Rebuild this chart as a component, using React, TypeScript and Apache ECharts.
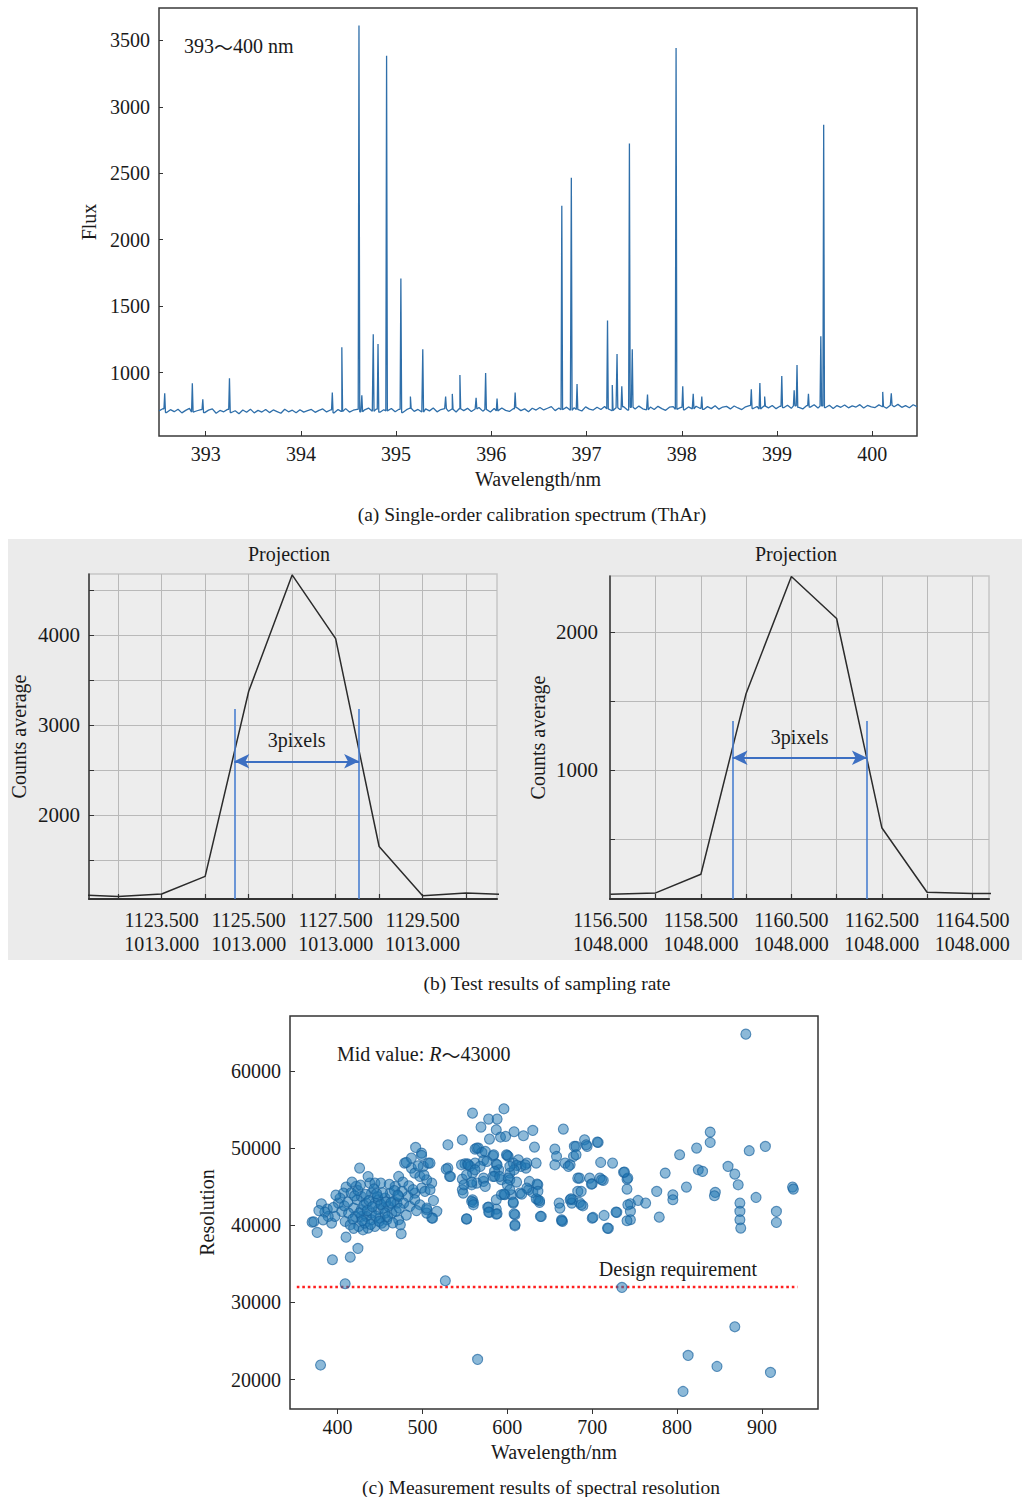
import React, { useEffect, useRef } from "react";
import * as echarts from "echarts";

// ---------- (a) spectrum ----------
const SPEC_START = 392.51;
const SPEC_STEP = 0.04;
const specBaseline = [
  712, 728, 700, 721, 706, 724, 697, 716, 731, 703, 713, 722, 699, 718, 727, 694, 715, 705, 723, 700,
  713, 691, 719, 702, 725, 697, 716, 703, 722, 699, 719, 707, 694, 724, 705, 717, 698, 721, 703, 714,
  723, 701, 716, 727, 704, 719, 698, 722, 708, 729, 703, 717, 724, 705, 720, 733, 709, 725, 702, 721,
  712, 730, 706, 724, 700, 721, 732, 708, 723, 703, 727, 712, 734, 705, 722, 729, 709, 725, 704, 728,
  714, 731, 707, 726, 737, 710, 723, 704, 730, 712, 734, 716, 708, 728, 736, 714, 727, 706, 732, 718,
  738, 719, 732, 744, 714, 734, 721, 740, 716, 736, 723, 711, 742, 725, 718, 739, 722, 745, 727, 715,
  736, 723, 743, 718, 739, 726, 748, 728, 720, 741, 722, 746, 729, 716, 740, 744, 724, 738, 720, 742,
  727, 747, 732, 723, 744, 729, 751, 725, 741, 746, 727, 749, 734, 722, 743, 752, 730, 745, 726, 748,
  735, 753, 729, 747, 736, 755, 731, 750, 738, 727, 751, 740, 758, 733, 749, 737, 754, 730, 752, 739,
  756, 735, 750, 741, 759, 734, 753, 742, 737, 757, 745, 732, 755, 743, 761, 739, 752, 736, 758, 744,
];
const specPeaks: [number, number][] = [
  [392.57, 845], [392.86, 920], [392.97, 800], [393.25, 957], [394.33, 850], [394.43, 1190],
  [394.61, 3613], [394.64, 830], [394.76, 1288], [394.81, 1215], [394.90, 3385], [395.05, 1708],
  [395.15, 820], [395.28, 1175], [395.52, 820], [395.59, 840], [395.67, 982], [395.84, 810],
  [395.94, 997], [396.06, 805], [396.25, 850], [396.74, 2256], [396.84, 2467], [396.90, 915],
  [397.22, 1393], [397.27, 907], [397.32, 1140], [397.37, 897], [397.45, 2724], [397.48, 1175],
  [397.64, 835], [397.94, 3443], [398.01, 897], [398.12, 840], [398.21, 820], [398.73, 875],
  [398.82, 922], [398.87, 820], [399.05, 975], [399.18, 867], [399.21, 1057], [399.33, 840],
  [399.46, 1273], [399.49, 2865], [400.11, 855], [400.20, 845],
];
const specXTicks = [393, 394, 395, 396, 397, 398, 399, 400];
const specYTicks = [1000, 1500, 2000, 2500, 3000, 3500];

// ---------- (b) projections ----------
const projLX = [1121.5, 1122.5, 1123.5, 1124.5, 1125.5, 1126.5, 1127.5, 1128.5, 1129.5, 1130.5, 1131.5];
const projLY = [1118, 1098, 1125, 1321, 3375, 4670, 3963, 1653, 1106, 1136, 1120];
const projLGridX = [1122.5, 1123.5, 1124.5, 1125.5, 1126.5, 1127.5, 1128.5, 1129.5, 1130.5];
const projLLabelX = [1123.5, 1125.5, 1127.5, 1129.5];
const projLGridY = [1500, 2000, 2500, 3000, 3500, 4000, 4500];
const projLLabelY = [2000, 3000, 4000];
const projLRow = "1013.000";
const projLMarkers = [1125.17, 1128.04];
const projLMarkerTop = 3180;
const projLArrowY = 2600;

const projRX = [1156.5, 1157.5, 1158.5, 1159.5, 1160.5, 1161.5, 1162.5, 1163.5, 1164.5, 1165.5];
const projRY = [105, 115, 250, 1556, 2400, 2097, 586, 120, 110, 110];
const projRGridX = [1157.5, 1158.5, 1159.5, 1160.5, 1161.5, 1162.5, 1163.5, 1164.5];
const projRLabelX = [1156.5, 1158.5, 1160.5, 1162.5, 1164.5];
const projRGridY = [500, 1000, 1500, 2000];
const projRLabelY = [1000, 2000];
const projRRow = "1048.000";
const projRMarkers = [1159.2, 1162.17];
const projRMarkerTop = 1356;
const projRArrowY = 1091;

// ---------- (c) resolution ----------
const resPoints: [number, number][] = [
  [370, 40400], [372, 40450], [376, 39070], [381, 42780], [388, 42090], [394, 35530], [393, 40280],
  [409, 32420], [410, 38460], [415, 35870], [424, 37000], [426, 47400], [410, 44940], [422, 45030],
  [407, 44160], [401, 42870], [405, 41790], [397, 41140], [389, 41140], [409, 40490], [415, 40060],
  [419, 42220], [423, 43300], [428, 43730], [434, 42870], [438, 45460], [444, 45460], [451, 45460],
  [440, 44160], [448, 43300], [456, 43520], [462, 44160], [468, 45030], [472, 46320], [479, 48050],
  [487, 47400], [491, 46750], [497, 46320], [501, 47620], [507, 48050], [511, 45460], [505, 45890],
  [499, 44810], [491, 44160], [483, 43730], [476, 44380], [470, 42870], [464, 41570], [458, 40710],
  [452, 40280], [444, 39850], [436, 39630], [430, 39410], [425, 39850], [428, 41140], [434, 41140],
  [440, 41570], [448, 42010], [454, 42220], [460, 42440], [466, 43080], [472, 43730], [478, 42870],
  [485, 42440], [491, 43300], [497, 42650], [503, 44380], [509, 44600], [505, 42010], [511, 40930],
  [475, 38900], [472, 40710], [474, 40060], [428, 42010], [421, 41140], [413, 41570], [444, 42870],
  [450, 40930], [456, 41570], [440, 40710], [432, 40280], [487, 48700], [499, 49340], [530, 47400],
  [532, 46320], [380, 21890],
  [403, 43500], [408, 42500], [412, 43000], [416, 44200], [418, 40800], [420, 43800], [424, 44500],
  [426, 41600], [429, 40600], [431, 42600], [433, 44000], [435, 41900], [437, 43200], [439, 40100],
  [441, 42400], [443, 44700], [445, 41200], [447, 43700], [449, 40500], [451, 42700], [453, 44200],
  [455, 39900], [457, 43000], [459, 41100], [461, 45300], [463, 42900], [465, 40300], [467, 44500],
  [469, 41800], [471, 43900], [473, 42200], [477, 45600], [481, 41300], [484, 45100], [489, 44600],
  [493, 41900], [495, 47700], [502, 46500], [513, 43200], [517, 41800], [398, 43900], [395, 42300],
  [385, 41700], [383, 40700], [378, 41900], [417, 45600], [427, 45200], [436, 46300], [419, 39600],
  [446, 44100],
  [492, 50080], [499, 49040], [481, 48130], [509, 48050], [530, 50420], [547, 51070], [559, 54520],
  [596, 55080], [578, 53750], [588, 53750], [569, 52710], [587, 52360], [592, 51420], [579, 51160],
  [598, 51500], [608, 52110], [619, 51590], [630, 52280], [562, 49860], [566, 49990], [570, 49430],
  [583, 49000], [600, 49040], [587, 47920], [632, 50120], [528, 47270], [533, 46320], [550, 47960],
  [553, 47960], [556, 47620], [562, 48050], [572, 48390], [590, 47180], [603, 46750], [607, 48050],
  [613, 48480], [623, 48050], [622, 47400], [634, 48050], [547, 45970], [559, 46750], [568, 47620],
  [564, 45460], [547, 44590], [548, 44160], [558, 45240], [572, 45670], [583, 46320], [593, 45890],
  [603, 45890], [593, 43950], [605, 43950], [615, 44160], [625, 44590], [636, 45240], [626, 45670],
  [559, 43300], [560, 42950], [577, 42310], [579, 41660], [587, 42090], [588, 41490], [587, 43300],
  [597, 43950], [607, 42870], [609, 41360], [609, 39930], [552, 40790], [638, 42950], [640, 41140],
  [636, 43300], [630, 44250], [661, 42870], [664, 40710], [665, 40490], [666, 52450], [656, 49860],
  [658, 48910], [656, 47830], [668, 48050], [678, 48910], [679, 50210], [683, 46100], [683, 44380],
  [674, 43300], [662, 42220], [546, 47830], [554, 47830], [552, 46540], [562, 47180], [576, 48260],
  [584, 49130], [588, 47830], [585, 46970], [585, 46320], [572, 46100], [574, 45030], [549, 45240],
  [558, 45590], [591, 46320], [601, 46100], [600, 45240], [611, 45590], [623, 44810], [603, 44590],
  [617, 44030], [634, 43430], [558, 43080], [560, 42650], [578, 42350], [578, 41700], [587, 41440],
  [596, 44030], [607, 43000], [608, 41490], [609, 40060], [552, 40840], [601, 48910], [599, 49130],
  [564, 49990], [574, 49560], [616, 47620], [611, 47750], [608, 47180], [603, 47620], [621, 47830],
  [635, 45330], [636, 44380], [638, 43170], [639, 41140], [565, 22620], [527, 32810], [512, 40920],
  [505, 41570], [505, 42220],
  [681, 50210], [691, 51070], [694, 50210], [707, 50720], [681, 49130], [674, 47830], [710, 48130],
  [724, 48050], [737, 46840], [741, 45970], [741, 44680], [685, 46100], [697, 46100], [709, 46100],
  [713, 45800], [700, 45370], [687, 44380], [677, 43300], [685, 42950], [689, 42520], [700, 40920],
  [714, 41270], [729, 41660], [719, 39590], [745, 42780], [745, 41790], [745, 40710], [754, 43210],
  [763, 42870], [779, 41050], [776, 44380], [786, 46750], [795, 43950], [795, 43300], [811, 44940],
  [803, 49130], [823, 49990], [839, 52060], [839, 50720], [825, 47180], [830, 46970], [845, 44250],
  [844, 43820], [860, 47620], [868, 46620], [872, 45240], [874, 42870], [874, 41790], [874, 40710],
  [875, 39630], [885, 49650], [893, 43600], [904, 50210], [917, 41790], [917, 40360], [936, 44940],
  [937, 44680], [881, 64750], [735, 31950], [676, 42870], [687, 42650], [701, 41010], [728, 41700],
  [718, 39630], [742, 42650], [741, 40580], [664, 40580], [742, 46110], [738, 46880], [706, 50770],
  [693, 50420], [672, 47620], [699, 45330], [711, 45890], [675, 43430],
  [813, 23140], [847, 21710], [868, 26850], [807, 18470], [910, 20940],
];
const resXTicks = [400, 500, 600, 700, 800, 900];
const resYTicks = [20000, 30000, 40000, 50000, 60000];
const designRequirement = 32000;
const designRange = [352, 942];

const FONT = "Liberation Serif";
const CJK = "Noto Sans CJK SC";
const TXT = "#1a1a1a";
const plain = (v: number) => String(v);

function buildSpectrum(): [number, number][] {
  const pts: [number, number][] = specBaseline.map((v, i) => [
    +(SPEC_START + i * SPEC_STEP).toFixed(3),
    v,
  ]);
  const baseAt = (x: number) => {
    const i = Math.min(specBaseline.length - 1, Math.max(0, Math.round((x - SPEC_START) / SPEC_STEP)));
    return specBaseline[i];
  };
  for (const [x, y] of specPeaks) {
    pts.push([x - 0.008, baseAt(x - 0.008)]);
    pts.push([x, y]);
    pts.push([x + 0.008, baseAt(x + 0.008)]);
  }
  pts.sort((a, b) => a[0] - b[0]);
  return pts;
}

function projAxes(
  gi: number,
  xmin: number,
  xmax: number,
  ymin: number,
  ymax: number,
  gridX: number[],
  labelX: number[],
  row: string,
  gridY: number[],
  labelY: number[],
  yMargin: number,
  yGap: number
) {
  const x = {
    gridIndex: gi,
    type: "value",
    min: xmin,
    max: xmax,
    axisLine: { show: true, onZero: false, lineStyle: { color: "#333", width: 2.2 } },
    axisTick: { show: true, inside: true, length: 5, customValues: gridX, lineStyle: { color: "#333", width: 1.2 } },
    axisLabel: {
      customValues: labelX,
      formatter: (v: number) => `${v.toFixed(3)}\n${row}`,
      color: TXT,
      fontFamily: FONT,
      fontSize: 20,
      lineHeight: 24,
      margin: 9,
    },
    splitLine: { show: true, lineStyle: { color: "#b9b9b9", width: 1 } },
  };
  const y = {
    gridIndex: gi,
    type: "value",
    min: ymin,
    max: ymax,
    name: "Counts average",
    nameLocation: "middle",
    nameGap: yGap,
    nameTextStyle: { color: TXT, fontFamily: FONT, fontSize: 20 },
    axisLine: { show: true, onZero: false, lineStyle: { color: "#333", width: 1.5 } },
    axisTick: { show: true, inside: true, length: 5, customValues: gridY, lineStyle: { color: "#333" } },
    axisLabel: { customValues: labelY, formatter: plain, color: TXT, fontFamily: FONT, fontSize: 21, margin: yMargin },
    splitLine: { show: true, lineStyle: { color: "#b9b9b9", width: 1 } },
  };
  return { x, y };
}

function projSeries(
  gi: number,
  xs: number[],
  ys: number[],
  markers: number[],
  top: number,
  ymin: number,
  arrowY: number
) {
  return {
    type: "line",
    xAxisIndex: gi,
    yAxisIndex: gi,
    data: xs.map((x, i) => [x, ys[i]]),
    showSymbol: false,
    symbol: "none",
    lineStyle: { color: "#2b2b2b", width: 1.5 },
    z: 3,
    markLine: {
      silent: true,
      symbol: ["none", "none"],
      animation: false,
      lineStyle: { color: "#4a7fd0", width: 1.6, type: "solid" },
      label: { show: false },
      data: [
        [{ coord: [markers[0], ymin] }, { coord: [markers[0], top] }],
        [{ coord: [markers[1], ymin] }, { coord: [markers[1], top] }],
        [
          {
            coord: [markers[0], arrowY],
            symbol: "arrow",
            symbolSize: [11, 15],
            lineStyle: { color: "#3c6fc2", width: 1.8, type: "solid" },
            label: {
              show: true,
              formatter: "3pixels",
              position: "insideMiddleTop",
              distance: 11,
              color: TXT,
              fontFamily: FONT,
              fontSize: 20,
            },
          },
          { coord: [markers[1], arrowY], symbol: "arrow", symbolSize: [11, 15] },
        ],
      ],
    },
  };
}

const centerText = (text: string, x: number, y: number, size = 20) => ({
  type: "text",
  style: {
    text,
    x,
    y,
    textAlign: "center",
    textVerticalAlign: "middle",
    align: "center",
    verticalAlign: "middle",
    fontFamily: FONT,
    fontSize: size,
    fill: TXT,
  },
});

export default function App() {
  const ref = useRef<HTMLDivElement>(null);
  useEffect(() => {
    if (!ref.current) return;
    const chart = echarts.init(ref.current, undefined, { renderer: "svg" });
    const pl = projAxes(1, 1121.83, 1131.21, 1070, 4680, projLGridX, projLLabelX, projLRow, projLGridY, projLLabelY, 9, 60);
    const pr = projAxes(2, 1156.49, 1164.87, 71, 2404, projRGridX, projRLabelX, projRRow, projRGridY, projRLabelY, 12, 62);

    const option: any = {
      animation: false,
      backgroundColor: "#ffffff",
      textStyle: { fontFamily: FONT },
      grid: [
        { left: 159, top: 8, width: 758, height: 428, show: true, borderColor: "#3a3a3a", borderWidth: 1.5, backgroundColor: "#ffffff" },
        { left: 89, top: 574, width: 408, height: 325, show: true, borderColor: "#c6c6c6", borderWidth: 1.5, backgroundColor: "#ededed" },
        { left: 610, top: 576, width: 379, height: 323, show: true, borderColor: "#c6c6c6", borderWidth: 1.5, backgroundColor: "#ededed" },
        { left: 290, top: 1016, width: 528, height: 393, show: true, borderColor: "#333", borderWidth: 1.5, backgroundColor: "#ffffff" },
      ],
      xAxis: [
        {
          gridIndex: 0,
          type: "value",
          min: 392.51,
          max: 400.47,
          name: "Wavelength/nm",
          nameLocation: "middle",
          nameGap: 33,
          nameTextStyle: { color: TXT, fontFamily: FONT, fontSize: 20 },
          axisLine: { show: false },
          axisTick: { show: true, inside: true, length: 5, customValues: specXTicks, lineStyle: { color: "#333" } },
          axisLabel: { customValues: specXTicks, formatter: plain, color: TXT, fontFamily: FONT, fontSize: 20, margin: 8 },
          splitLine: { show: false },
        },
        pl.x,
        pr.x,
        {
          gridIndex: 3,
          type: "value",
          min: 344,
          max: 966,
          name: "Wavelength/nm",
          nameLocation: "middle",
          nameGap: 33,
          nameTextStyle: { color: TXT, fontFamily: FONT, fontSize: 20 },
          axisLine: { show: false },
          axisTick: { show: true, inside: false, length: 5, customValues: resXTicks, lineStyle: { color: "#333" } },
          axisLabel: { customValues: resXTicks, formatter: plain, color: TXT, fontFamily: FONT, fontSize: 20, margin: 8 },
          splitLine: { show: false },
        },
      ],
      yAxis: [
        {
          gridIndex: 0,
          type: "value",
          min: 523,
          max: 3744,
          name: "Flux",
          nameLocation: "middle",
          nameGap: 57,
          nameTextStyle: { color: TXT, fontFamily: FONT, fontSize: 20 },
          axisLine: { show: false },
          axisTick: { show: true, inside: true, length: 4, customValues: specYTicks, lineStyle: { color: "#333" } },
          axisLabel: { customValues: specYTicks, formatter: plain, color: TXT, fontFamily: FONT, fontSize: 20, margin: 9 },
          splitLine: { show: false },
        },
        pl.y,
        pr.y,
        {
          gridIndex: 3,
          type: "value",
          min: 16200,
          max: 67100,
          name: "Resolution",
          nameLocation: "middle",
          nameGap: 73,
          nameTextStyle: { color: TXT, fontFamily: FONT, fontSize: 20 },
          axisLine: { show: false },
          axisTick: { show: true, inside: true, length: 5, customValues: resYTicks, lineStyle: { color: "#333" } },
          axisLabel: { customValues: resYTicks, formatter: plain, color: TXT, fontFamily: FONT, fontSize: 20, margin: 9 },
          splitLine: { show: false },
        },
      ],
      series: [
        {
          type: "line",
          xAxisIndex: 0,
          yAxisIndex: 0,
          data: buildSpectrum(),
          showSymbol: false,
          symbol: "none",
          lineStyle: { color: "#2f6faa", width: 1.3 },
        },
        projSeries(1, projLX, projLY, projLMarkers, projLMarkerTop, 1070, projLArrowY),
        projSeries(2, projRX, projRY, projRMarkers, projRMarkerTop, 71, projRArrowY),
        {
          type: "line",
          xAxisIndex: 3,
          yAxisIndex: 3,
          data: [
            [designRange[0], designRequirement],
            [designRange[1], designRequirement],
          ],
          showSymbol: false,
          symbol: "none",
          lineStyle: { color: "#ff1f1f", width: 2.6, type: [2.6, 2.9] },
          z: 2,
        },
        {
          type: "scatter",
          xAxisIndex: 3,
          yAxisIndex: 3,
          data: resPoints,
          symbolSize: 10,
          itemStyle: {
            color: "rgba(31,119,180,0.64)",
            borderColor: "rgba(24,98,158,0.85)",
            borderWidth: 1.1,
          },
          z: 3,
        },
      ],
      graphic: [
        { type: "rect", z: -100, shape: { x: 8, y: 539, width: 1014, height: 421 }, style: { fill: "#ebebeb" }, silent: true },
        {
          type: "text",
          style: {
            text: "{a|393}{t|～}{a|400 nm}",
            x: 184,
            y: 46,
            textAlign: "left",
            textVerticalAlign: "middle",
            align: "left",
            verticalAlign: "middle",
            rich: {
              a: { fontFamily: FONT, fontSize: 20, fill: TXT, color: TXT },
              t: { fontFamily: CJK, fontSize: 19, fill: TXT, color: TXT },
            },
          },
        },
        centerText("(a) Single-order calibration spectrum (ThAr)", 532, 514, 19.5),
        centerText("Projection", 289, 554),
        centerText("Projection", 796, 554),
        centerText("(b) Test results of sampling rate", 547, 983, 19.5),
        {
          type: "text",
          style: {
            text: "{a|Mid value: }{b|R}{t|～}{a|43000}",
            x: 337,
            y: 1054,
            textAlign: "left",
            textVerticalAlign: "middle",
            align: "left",
            verticalAlign: "middle",
            rich: {
              a: { fontFamily: FONT, fontSize: 20, fill: TXT, color: TXT },
              b: { fontFamily: FONT, fontSize: 20, fontStyle: "italic", fill: TXT, color: TXT },
              t: { fontFamily: CJK, fontSize: 19, fill: TXT, color: TXT },
            },
          },
        },
        centerText("Design requirement", 678, 1269),
        centerText("(c) Measurement results of spectral resolution", 541, 1487, 19.5),
      ],
    };
    chart.setOption(option);
    return () => chart.dispose();
  }, []);
  return (
    <div
      ref={ref}
      style={{ position: "absolute", left: 0, top: 0, width: 1022, height: 1497, background: "#fff" }}
    />
  );
}
